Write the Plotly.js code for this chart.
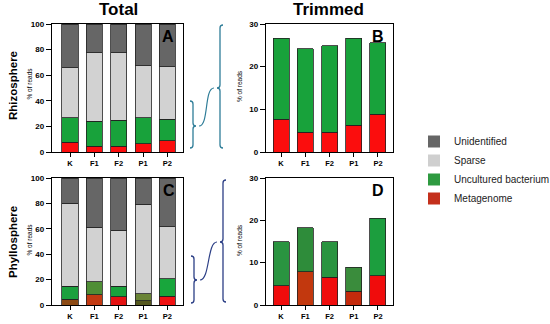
<!DOCTYPE html>
<html>
<head>
<meta charset="utf-8">
<script src="https://cdn.plot.ly/plotly-3.0.1.min.js"></script>
<style>html,body{margin:0;padding:0;background:#fff}#chart{width:550px;height:324px}</style>
</head>
<body>
<div id="chart"></div>
<script>
// ---- data ----
const samples = ['K', 'F1', 'F2', 'P1', 'P2'];
const seriesNames = ['Metagenome', 'Uncultured bacterium', 'Sparse', 'Unidentified'];

// Rhizosphere, % of reads (total)
const rhizoMetagenome   = [7.7, 4.6, 4.6, 6.3, 8.8];
const rhizoUncultured   = [19.0, 19.6, 20.3, 20.4, 16.8];
const rhizoSparse       = [39.3, 53.5, 52.8, 40.8, 41.2];
const rhizoUnidentified = [34.0, 22.3, 22.3, 32.5, 33.2];

// Phyllosphere, % of reads (total)
const phylloMetagenome   = [4.6, 7.9, 6.5, 3.2, 6.9];
const phylloUncultured   = [10.3, 10.4, 8.4, 5.7, 13.6];
const phylloSparse       = [65.4, 42.8, 44.0, 70.6, 41.3];
const phylloUnidentified = [19.7, 38.9, 41.1, 20.5, 38.2];

// ---- styling ----
const colors = {
  'Metagenome': '#fb0d0d',
  'Uncultured bacterium': '#18a23b',
  'Sparse': '#d2d2d2',
  'Unidentified': '#666666'
};
const legendColors = {
  'Metagenome': '#c4301c',
  'Uncultured bacterium': '#2e9a40',
  'Sparse': '#cfcfcf',
  'Unidentified': '#666666'
};
// tinted per-bar colours seen in the phyllosphere panels of the source figure
const phylloTotalColors = {
  'Metagenome': ['#8c4a14', '#c23a12', '#e41212', '#55581e', '#f01212'],
  'Uncultured bacterium': ['#1ca03e', '#4f8e36', '#1aa23c', '#6a8436', '#18a63c']
};
const phylloTrimColors = {
  'Metagenome': ['#f00c0c', '#c2380e', '#f00c0c', '#c42a0c', '#f00c0c'],
  'Uncultured bacterium': ['#2a9440', '#2e8c3a', '#2a9440', '#3a8c3c', '#1c9e3e']
};
const FONT = 'Liberation Sans, Arial, Helvetica, sans-serif';
const W = 550, H = 324;
const px = x => x / W;
const py = y => 1 - y / H;

function bar(name, y, xa, ya, color) {
  return {
    type: 'bar', name: name, x: samples, y: y,
    xaxis: xa, yaxis: ya, width: 0.66,
    marker: {color: color || colors[name], line: {color: '#222', width: 0.8}},
    showlegend: false, legendgroup: name, hoverinfo: 'x+y+name'
  };
}

const traces = [];
// A: rhizosphere total
[[rhizoMetagenome, 'Metagenome'], [rhizoUncultured, 'Uncultured bacterium'],
 [rhizoSparse, 'Sparse'], [rhizoUnidentified, 'Unidentified']].forEach(([v, n]) =>
  traces.push(bar(n, v, 'x', 'y')));
// B: rhizosphere trimmed
[[rhizoMetagenome, 'Metagenome'], [rhizoUncultured, 'Uncultured bacterium']].forEach(([v, n]) =>
  traces.push(bar(n, v, 'x2', 'y2')));
// C: phyllosphere total
[[phylloMetagenome, 'Metagenome'], [phylloUncultured, 'Uncultured bacterium'],
 [phylloSparse, 'Sparse'], [phylloUnidentified, 'Unidentified']].forEach(([v, n]) =>
  traces.push(bar(n, v, 'x3', 'y3', phylloTotalColors[n])));
// D: phyllosphere trimmed
[[phylloMetagenome, 'Metagenome'], [phylloUncultured, 'Uncultured bacterium']].forEach(([v, n]) =>
  traces.push(bar(n, v, 'x4', 'y4', phylloTrimColors[n])));
// legend-only entries
seriesNames.forEach(n => traces.push({
  type: 'bar', name: n, x: [null], y: [null], xaxis: 'x', yaxis: 'y',
  marker: {color: legendColors[n], line: {width: 0}}, showlegend: true, hoverinfo: 'skip'
}));

function xaxis(domain, range, anchor) {
  return {
    domain: domain, range: range, anchor: anchor, type: 'category',
    showline: true, linecolor: '#000', linewidth: 1.3, mirror: true,
    ticks: 'outside', ticklen: 4, tickwidth: 1, tickcolor: '#000',
    tickfont: {family: FONT, size: 7.5, color: '#000', weight: 'bold'},
    showgrid: false, zeroline: false, fixedrange: true
  };
}
function yaxis(domain, range, dtick, anchor) {
  return {
    domain: domain, range: range, dtick: dtick, anchor: anchor,
    showline: true, linecolor: '#000', linewidth: 1.3, mirror: true,
    ticks: 'outside', ticklen: 5, tickwidth: 1, tickcolor: '#000',
    tickfont: {family: FONT, size: 8, color: '#000', weight: 'bold'},
    showgrid: false, zeroline: false, fixedrange: true
  };
}

const dAx = [px(52), px(183)], dBx = [px(266), px(393)];
const dTop = [py(152), py(24)], dBot = [py(305), py(178)];

function ann(text, x, y, size, opts) {
  return Object.assign({
    text: text, x: px(x), y: py(y), xref: 'paper', yref: 'paper',
    showarrow: false, xanchor: 'center', yanchor: 'middle',
    font: {family: FONT, size: size, color: '#000'}
  }, opts || {});
}

const annotations = [
  ann('<b>Total</b>', 118, 9, 17),
  ann('<b>Trimmed</b>', 328, 9, 17),
  ann('<b>Rhizosphere</b>', 13, 86, 11.5, {textangle: -90}),
  ann('<b>Phyllosphere</b>', 13, 242, 11.5, {textangle: -90}),
  ann('% of reads', 28.5, 84, 6.5, {textangle: -90}),
  ann('% of reads', 28.5, 240, 6.5, {textangle: -90}),
  ann('% of reads', 239, 86, 6.5, {textangle: -90}),
  ann('% of reads', 239, 240, 6.5, {textangle: -90}),
  ann('<b>A</b>', 168, 36, 16),
  ann('<b>B</b>', 378, 36, 16),
  ann('<b>C</b>', 169, 191, 16),
  ann('<b>D</b>', 378, 191, 16)
];

// decorative braces and connecting curves (paper coordinates)
function pathStr(cmds) {
  return cmds.map(c => c[0] + ' ' + c.slice(1).map((v, i) => (i % 2 === 0 ? px(v) : py(v)).toFixed(5)).join(' ')).join(' ');
}
function closeBrace(x, y0, y1, ym, color) { // "}" shape
  return {type: 'path', xref: 'paper', yref: 'paper', line: {color: color, width: 1.3},
    path: pathStr([['M', x, y0], ['Q', x + 3, y0, x + 3, y0 + 3], ['L', x + 3, ym - 3],
      ['Q', x + 3, ym, x + 6, ym], ['Q', x + 3, ym, x + 3, ym + 3], ['L', x + 3, y1 - 3],
      ['Q', x + 3, y1, x, y1]])};
}
function openBrace(x, y0, y1, ym, color) { // "{" shape, x = right edge
  return {type: 'path', xref: 'paper', yref: 'paper', line: {color: color, width: 1.3},
    path: pathStr([['M', x, y0], ['Q', x - 3, y0, x - 3, y0 + 3], ['L', x - 3, ym - 3],
      ['Q', x - 3, ym, x - 6, ym], ['Q', x - 3, ym, x - 3, ym + 3], ['L', x - 3, y1 - 3],
      ['Q', x - 3, y1, x, y1]])};
}
function sCurve(x0, y0, x1, y1, color) {
  return {type: 'path', xref: 'paper', yref: 'paper', line: {color: color, width: 1.2},
    path: pathStr([['M', x0, y0], ['C', x0 + 10, y0, x1 - 10, y1, x1, y1]])};
}
const teal = '#2f7d98', navy = '#2c3f86';
const shapes = [
  closeBrace(190, 101, 148, 126, teal),
  openBrace(223, 25, 148, 88, teal),
  sCurve(199, 126, 214, 88, teal),
  closeBrace(191, 256, 303, 280, navy),
  openBrace(226, 180, 302, 242, navy),
  sCurve(200, 280, 217, 242, navy)
];

const layout = {
  width: W, height: H,
  margin: {l: 0, r: 0, t: 0, b: 0, autoexpand: false},
  paper_bgcolor: '#fff', plot_bgcolor: '#fff',
  barmode: 'stack', bargap: 0.34,
  font: {family: FONT, color: '#000'},
  xaxis: xaxis(dAx, [-0.74, 4.64], 'y'),
  yaxis: yaxis(dTop, [0, 100], 20, 'x'),
  xaxis2: xaxis(dBx, [-0.62, 4.62], 'y2'),
  yaxis2: yaxis(dTop, [0, 30], 10, 'x2'),
  xaxis3: xaxis(dAx, [-0.74, 4.64], 'y3'),
  yaxis3: yaxis(dBot, [0, 100], 20, 'x3'),
  xaxis4: xaxis(dBx, [-0.62, 4.62], 'y4'),
  yaxis4: yaxis(dBot, [0, 30], 10, 'x4'),
  legend: {
    x: px(414), y: py(127), xanchor: 'left', yanchor: 'top',
    traceorder: 'reversed', font: {family: FONT, size: 10, color: '#222'},
    bgcolor: 'rgba(0,0,0,0)', tracegroupgap: 0
  },
  annotations: annotations,
  shapes: shapes
};

Plotly.newPlot('chart', traces, layout, {staticPlot: true, displayModeBar: false});
</script>
</body>
</html>
